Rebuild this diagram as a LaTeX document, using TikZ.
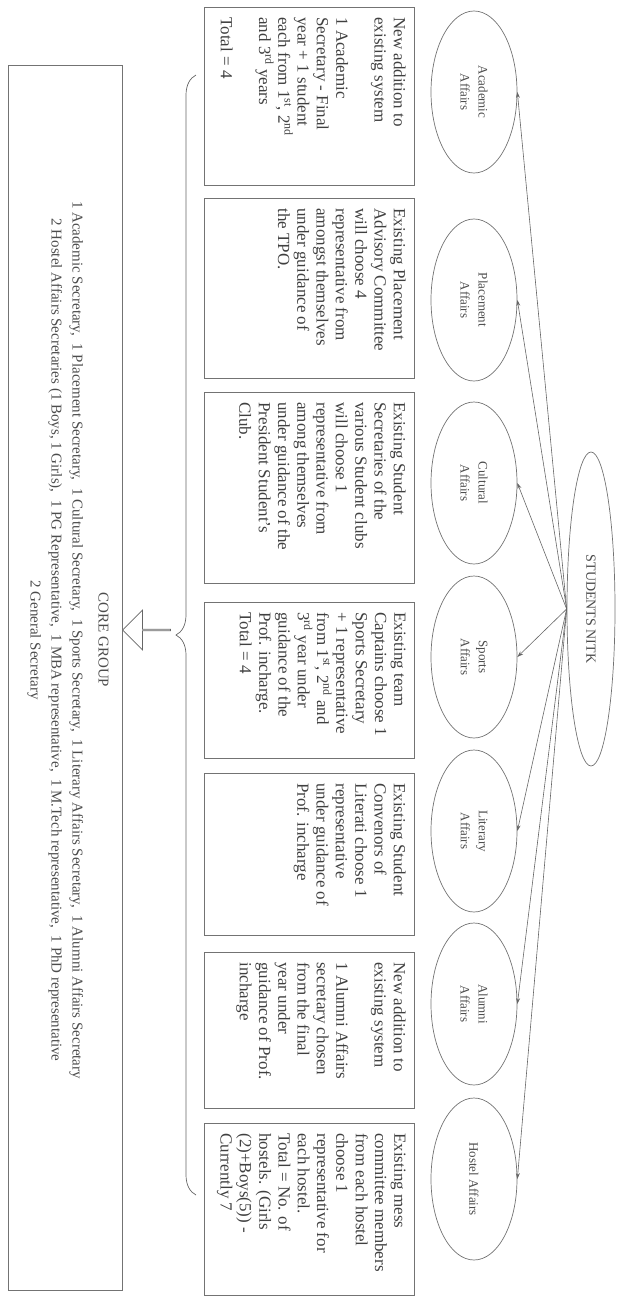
\documentclass[tikz,border=0pt]{standalone}
\usepackage{fontspec}
\setmainfont{Liberation Serif}
\usetikzlibrary{shapes.geometric,shapes.arrows,decorations.pathreplacing,arrows.meta}

\newcommand{\cardtext}[3]{\begin{minipage}[t][#2][t]{#1}\raggedright #3\end{minipage}}

\begin{document}
\begin{tikzpicture}[x=1pt, y=1pt,
  wing/.style={draw=black!55, line width=0.7pt, ellipse, inner sep=0pt, minimum width=162pt, minimum height=86pt, align=center, text=black!70, font=\fontsize{13}{18}\selectfont},
  card/.style={draw=black!55, line width=0.7pt, rectangle, anchor=north west, inner xsep=10pt, inner ysep=9pt, text=black!75, font=\fontsize{17}{19.3}\selectfont},
  link/.style={draw=black!60, line width=0.6pt, -{Stealth[length=6pt,width=4pt]}}]
\begin{scope}[rotate=-90, transform shape]
\useasboundingbox (0,0) rectangle (1299,621);

\node[wing, minimum width=314pt, minimum height=48pt, font=\fontsize{14}{17}\selectfont] (nitk) at (609,591) {STUDENTS NITK};

\node[wing] (acad) at (92,474) {Academic\\Affairs};
\node[wing] (place) at (300,474) {Placement\\Affairs};
\node[wing] (cult) at (483,474) {Cultural\\Affairs};
\node[wing] (sport) at (657,474) {Sports\\Affairs};
\node[wing] (lit) at (831,474) {Literary\\Affairs};
\node[wing] (alum) at (1004,474) {Alumni\\Affairs};
\node[wing] (hostel) at (1179,474) {Hostel Affairs};

\draw[link] (nitk.south) -- (acad.north);
\draw[link] (nitk.south) -- (place.north);
\draw[link] (nitk.south) -- (cult.north);
\draw[link] (nitk.south) -- (sport.north);
\draw[link] (nitk.south) -- (lit.north);
\draw[link] (nitk.south) -- (alum.north);
\draw[link] (nitk.south) -- (hostel.north);

% how each secretary is chosen
\node[card] (acadbox) at (7,415) {\cardtext{158pt}{192pt}{New addition to\\ existing system\\[19pt] 1 Academic\\ Secretary - Final\\ year + 1 student\\ each from 1\textsuperscript{st}, 2\textsuperscript{nd}\\ and 3\textsuperscript{rd} years\\[19pt] Total = 4}};
\node[card] (placebox) at (198,415) {\cardtext{160pt}{192pt}{Existing Placement\\ Advisory Committee\\ will choose 4\\ representative from\\ amongst themselves\\ under guidance of\\ the TPO.}};
\node[card] (cultbox) at (392,415) {\cardtext{171pt}{192pt}{Existing Student\\ Secretaries of the\\ various Student clubs\\ will choose 1\\ representative from\\ among themselves\\ under guidance of the\\ President Student's\\ Club.}};
\node[card] (sportbox) at (602,415) {\cardtext{136pt}{192pt}{Existing team\\ Captains choose 1\\ Sports Secretary\\ + 1 representative\\ from 1\textsuperscript{st}, 2\textsuperscript{nd} and\\ 3\textsuperscript{rd} year under\\ guidance of the\\ Prof. incharge.\\ Total = 4}};
\node[card] (litbox) at (773,415) {\cardtext{142pt}{192pt}{Existing Student\\ Convenors of\\ Literati choose 1\\ representative\\ under guidance of\\ Prof. incharge}};
\node[card] (alumbox) at (952,415) {\cardtext{136pt}{192pt}{New addition to\\ existing system\\[19pt] 1 Alumni Affairs\\ secretary chosen\\ from the final\\ year under\\ guidance of Prof.\\ incharge}};
\node[card] (hostelbox) at (1123,415) {\cardtext{152pt}{192pt}{Existing mess\\ committee members\\ from each hostel\\ choose 1\\ representative for\\ each hostel.\\ Total = No. of\\ hostels. (Girls\\ (2)+Boys(5)) -\\ Currently 7}};

\coordinate (braceR) at (1195,196);
\coordinate (braceL) at (75,196);
\draw[draw=black!60, line width=0.7pt, decorate, decoration={brace, amplitude=20pt}] (braceR) -- (braceL);

\node[single arrow, draw=black!60, line width=0.7pt, shape border rotate=270, minimum height=48pt, minimum width=40pt, single arrow head extend=8pt, inner sep=0pt] (down) at (630,147) {};

\node[draw=black!55, line width=0.7pt, rectangle, minimum width=1225pt, minimum height=114pt, inner sep=0pt] (core) at (677.5,65) {};
\node[align=center, text=black!70, font=\fontsize{15}{21}\selectfont] (corelist) at (640,68) {CORE GROUP\\[5pt]
1 Academic Secretary, \ 1 Placement Secretary, \ 1 Cultural Secretary, \ 1 Sports Secretary, \ 1 Literary Affairs Secretary, \ 1 Alumni Affairs Secretary\\
2 Hostel Affairs Secretaries (1 Boys, 1 Girls), \ 1 PG Representative, \ 1 MBA representative, \ 1 M.Tech representative, \ 1 PhD representative\\
2 General Secretary};
\end{scope}
\end{tikzpicture}
\end{document}
